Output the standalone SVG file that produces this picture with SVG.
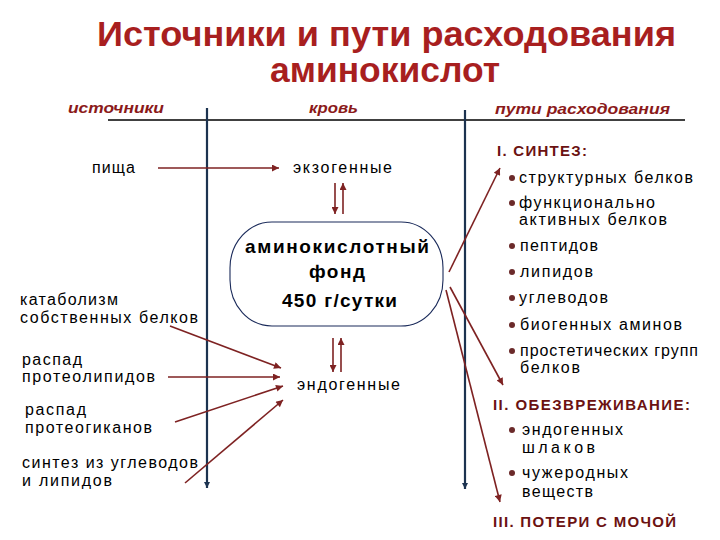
<svg xmlns="http://www.w3.org/2000/svg" width="720" height="540" viewBox="0 0 720 540">
<style>
  .title{font-family:"Liberation Sans",Arial,sans-serif;font-weight:bold;font-size:35px;fill:#a81f1f;}
  .hdr{font-family:"Liberation Sans",Arial,sans-serif;font-weight:bold;font-style:italic;font-size:15px;fill:#8b1a1a;}
  .t{font-family:"Liberation Sans",Arial,sans-serif;font-size:16px;fill:#000;}
  .b{font-family:"Liberation Sans",Arial,sans-serif;font-weight:bold;font-size:19px;fill:#000;}
  .sec{font-family:"Liberation Sans",Arial,sans-serif;font-weight:bold;font-size:15px;fill:#6b1212;}
  .red{stroke:#7e2222;stroke-width:1.6;fill:none;marker-end:url(#ah);}
  .axis{stroke:#1c3350;stroke-width:2.2;fill:none;marker-end:url(#ahb);}
  .dot{fill:#6b2a2a;}
</style>
<defs>
  <marker id="ah" viewBox="0 0 10 10" refX="10" refY="5" markerWidth="10" markerHeight="7" markerUnits="userSpaceOnUse" orient="auto">
    <path d="M0,0 L10,5 L0,10 z" fill="#7e2222"/>
  </marker>
  <marker id="ahb" viewBox="0 0 10 10" refX="10" refY="5" markerWidth="9" markerHeight="6" markerUnits="userSpaceOnUse" orient="auto">
    <path d="M0,0 L10,5 L0,10 z" fill="#1c3350"/>
  </marker>
</defs>
<rect width="720" height="540" fill="#fff"/>

<g id="title">
  <text class="title" x="97" y="46" textLength="579" lengthAdjust="spacingAndGlyphs">Источники и пути расходования</text>
  <text class="title" x="270" y="82" textLength="230" lengthAdjust="spacingAndGlyphs">аминокислот</text>
</g>

<g id="headers">
  <text class="hdr" x="68" y="113" textLength="96" lengthAdjust="spacingAndGlyphs">источники</text>
  <text class="hdr" x="309" y="113" textLength="49" lengthAdjust="spacingAndGlyphs">кровь</text>
  <text class="hdr" x="495" y="114" textLength="175" lengthAdjust="spacingAndGlyphs">пути расходования</text>
  <line x1="108" y1="120" x2="685" y2="120" stroke="#000" stroke-width="1.5"/>
</g>

<g id="axes">
  <line class="axis" x1="207" y1="108" x2="207" y2="488"/>
  <line class="axis" x1="465" y1="110" x2="465" y2="489"/>
</g>

<g id="food"><text class="t" x="92" y="173" textLength="43" lengthAdjust="spacing">пища</text></g>
<g id="exogenous"><text class="t" x="293" y="173" textLength="99" lengthAdjust="spacing">экзогенные</text></g>

<g id="pool">
  <rect x="230" y="222" width="213" height="104" rx="42" ry="46" fill="#fff" stroke="#1a2a5a" stroke-width="1.1"/>
  <text class="b" x="245" y="253" textLength="184" lengthAdjust="spacing">аминокислотный</text>
  <text class="b" x="309" y="278" textLength="56" lengthAdjust="spacing">фонд</text>
  <text class="b" x="282" y="307" textLength="115" lengthAdjust="spacing">450 г/сутки</text>
</g>

<g id="endogenous"><text class="t" x="297" y="390" textLength="103" lengthAdjust="spacing">эндогенные</text></g>

<g id="catabolism">
  <text class="t" x="20" y="305" textLength="98" lengthAdjust="spacing">катаболизм</text>
  <text class="t" x="20" y="323" textLength="178" lengthAdjust="spacing">собственных белков</text>
</g>
<g id="proteolipids">
  <text class="t" x="22" y="365" textLength="60" lengthAdjust="spacing">распад</text>
  <text class="t" x="22" y="382" textLength="133" lengthAdjust="spacing">протеолипидов</text>
</g>
<g id="proteoglycans">
  <text class="t" x="25" y="415" textLength="61" lengthAdjust="spacing">распад</text>
  <text class="t" x="25" y="433" textLength="127" lengthAdjust="spacing">протеогиканов</text>
</g>
<g id="synthesis-src">
  <text class="t" x="22" y="468" textLength="176" lengthAdjust="spacing">синтез из углеводов</text>
  <text class="t" x="22" y="486" textLength="90" lengthAdjust="spacing">и липидов</text>
</g>

<g id="synthesis">
  <text class="sec" x="497" y="156" textLength="90" lengthAdjust="spacing">I. СИНТЕЗ:</text>
  <circle class="dot" cx="512" cy="178" r="3"/>
  <text class="t" x="519" y="183" textLength="174" lengthAdjust="spacing">структурных белков</text>
  <circle class="dot" cx="512" cy="203" r="3"/>
  <text class="t" x="519" y="208" textLength="136" lengthAdjust="spacing">функционально</text>
  <text class="t" x="519" y="225" textLength="148" lengthAdjust="spacing">активных белков</text>
  <circle class="dot" cx="512" cy="246" r="3"/>
  <text class="t" x="520" y="251" textLength="78" lengthAdjust="spacing">пептидов</text>
  <circle class="dot" cx="512" cy="272" r="3"/>
  <text class="t" x="520" y="277" textLength="73" lengthAdjust="spacing">липидов</text>
  <circle class="dot" cx="512" cy="298" r="3"/>
  <text class="t" x="519" y="303" textLength="89" lengthAdjust="spacing">углеводов</text>
  <circle class="dot" cx="512" cy="325" r="3"/>
  <text class="t" x="520" y="330" textLength="162" lengthAdjust="spacing">биогенных аминов</text>
  <circle class="dot" cx="512" cy="351" r="3"/>
  <text class="t" x="520" y="356" textLength="178" lengthAdjust="spacing">простетических групп</text>
  <text class="t" x="520" y="373" textLength="60" lengthAdjust="spacing">белков</text>
</g>

<g id="detox">
  <text class="sec" x="493" y="410" textLength="197" lengthAdjust="spacing">II. ОБЕЗВРЕЖИВАНИЕ:</text>
  <circle class="dot" cx="512" cy="430" r="3"/>
  <text class="t" x="522" y="435" textLength="101" lengthAdjust="spacing">эндогенных</text>
  <text class="t" x="522" y="453" textLength="73" lengthAdjust="spacing">шлаков</text>
  <circle class="dot" cx="512" cy="473" r="3"/>
  <text class="t" x="522" y="478" textLength="106" lengthAdjust="spacing">чужеродных</text>
  <text class="t" x="522" y="497" textLength="71" lengthAdjust="spacing">веществ</text>
</g>

<g id="urine">
  <text class="sec" x="493" y="527" textLength="183" lengthAdjust="spacing">III. ПОТЕРИ С МОЧОЙ</text>
</g>

<g id="connectors">
  <line class="red" x1="158" y1="168" x2="279" y2="168"/>
  <line class="red" x1="335" y1="183" x2="335" y2="214"/>
  <line class="red" x1="343" y1="214" x2="343" y2="183"/>
  <line class="red" x1="333" y1="338" x2="333" y2="372"/>
  <line class="red" x1="341" y1="372" x2="341" y2="338"/>
  <line class="red" x1="170" y1="326" x2="281" y2="368"/>
  <line class="red" x1="168" y1="377" x2="280" y2="377"/>
  <line class="red" x1="175" y1="422" x2="283" y2="386"/>
  <line class="red" x1="185" y1="483" x2="283" y2="400"/>
  <line class="red" x1="449" y1="272" x2="500" y2="168"/>
  <line class="red" x1="450" y1="287" x2="503" y2="385"/>
  <line class="red" x1="446" y1="290" x2="500" y2="502"/>
</g>
</svg>
